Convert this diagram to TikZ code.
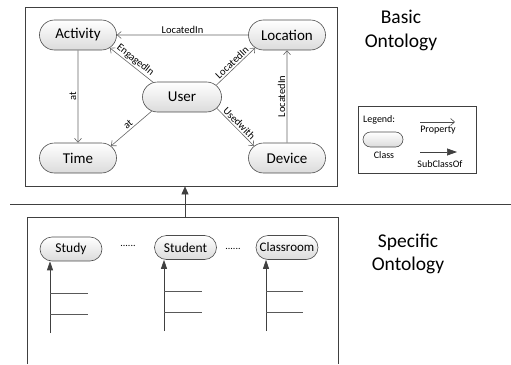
\documentclass[tikz,border=0pt]{standalone}
\usepackage{fontspec}
\setmainfont{Carlito}
\usetikzlibrary{arrows.meta,shapes.misc}
\begin{document}
\begin{tikzpicture}[x=1pt,y=-1pt,
  cls/.style={rounded rectangle, draw=black!70, line width=0.6pt, top color=white,
    bottom color=black!14, minimum width=77pt, minimum height=30pt, inner sep=0pt,
    font=\fontsize{15}{15}\selectfont},
  subcls/.style={cls, minimum width=62pt, minimum height=24pt,
    font=\fontsize{13.5}{13.5}\selectfont},
  prop/.style={draw=black!60, line width=0.6pt, -{Straight Barb[length=4pt,width=7pt]}},
  isa/.style={draw=black!75, line width=0.7pt, -{Triangle[length=9pt,width=6pt]}},
  tick/.style={draw=black!65, line width=0.6pt},
  plabel/.style={font=\fontsize{10.5}{10.5}\selectfont, inner sep=1.5pt},
  frame/.style={draw=black!75, line width=0.7pt},
  title/.style={font=\fontsize{19.5}{23.5}\selectfont, align=center},
  legtext/.style={font=\fontsize{10}{10}\selectfont, inner sep=0pt},
  dots/.style={font=\fontsize{10}{10}\selectfont, inner sep=0pt}
]
\useasboundingbox (0,0) rectangle (511,364);

% ---------- basic ontology ----------
\node[frame, minimum width=312pt, minimum height=179pt, inner sep=0pt] (basic) at (181,96.5) {};
\node[cls] (act)  at (78,35)   {Activity};
\node[cls] (loc)  at (287,35)  {Location};
\node[cls, minimum width=79pt] (user) at (182,97) {User};
\node[cls] (time) at (78,158)  {Time};
\node[cls] (dev)  at (287,158) {Device};

\draw[prop] (loc) -- node[plabel, above] {LocatedIn} (act);
\draw[prop] (act) -- node[plabel, rotate=90, above, pos=0.5] {at} (time);
\draw[prop] (dev) -- node[plabel, rotate=90, above] {LocatedIn} (loc);
\draw[prop] (user.153) -- node[plabel, sloped, above] {EngagedIn} (act.-22);
\draw[prop] (user.19)  -- node[plabel, sloped, above] {LocatedIn} (loc.202);
\draw[prop] (user.205) -- node[plabel, sloped, above] {at} (time.20);
\draw[prop] (user.-18) -- node[plabel, sloped, above] {Usedwith} (dev.160);

\node[title] (basictitle) at (401,30.5) {Basic\\Ontology};

% ---------- legend ----------
\node[frame, line width=0.6pt, minimum width=118pt, minimum height=67pt, inner sep=0pt] (legend) at (417,139.5) {};
\node[legtext, anchor=west] (legtitle) at (363,120) {Legend:};
\coordinate (pa) at (420,122);
\coordinate (pb) at (455,122);
\draw[prop, draw=black!70] (pa) -- (pb);
\node[legtext] (proptext) at (438,130.5) {Property};
\node[cls, minimum width=40pt, minimum height=15pt] (legcls) at (383,139.5) {};
\node[legtext] (clstext) at (384,155) {Class};
\coordinate (sa) at (420,152);
\coordinate (sb) at (457,152);
\draw[isa, -{Triangle[length=10pt,width=7pt]}] (sa) -- (sb);
\node[legtext] (subtext) at (440,164) {SubClassOf};

% ---------- separator ----------
\coordinate (sepL) at (10,204);
\coordinate (sepR) at (511,204);
\draw[frame] (sepL) -- (sepR);

% ---------- specific ontology ----------
\coordinate (specBL) at (27,364);
\coordinate (specTL) at (27,217);
\coordinate (specTR) at (338,217);
\coordinate (specBR) at (338,364);
\draw[frame] (specBL) -- (specTL) -- (specTR) -- (specBR);
\coordinate (specTop) at (185,217);
\draw[isa, -{Triangle[length=8pt,width=7pt]}] (specTop) -- (basic.south -| specTop);

\node[title] (spectitle) at (408,254) {Specific\\Ontology};

\node[subcls] (study)   at (71,249)    {Study};
\node[subcls] (student) at (185.5,247.5) {Student};
\node[subcls, font=\fontsize{13}{13}\selectfont] (room) at (287,247.5) {Classroom};
\node[dots] (dots1) at (128,246) {......};
\node[dots] (dots2) at (233,249) {......};

% sub-class trees
\coordinate (t1) at (50,333);
\draw[isa] (t1) -- (study.south -| t1);
\draw[tick] (50,293) -- (88,293);
\draw[tick] (50,314) -- (88,314);

\coordinate (t2) at (164,331);
\draw[isa] (t2) -- (student.south -| t2);
\draw[tick] (164,291) -- (202,291);
\draw[tick] (164,312) -- (202,312);

\coordinate (t3) at (266,331);
\draw[isa] (t3) -- (room.south -| t3);
\draw[tick] (266,291) -- (303,291);
\draw[tick] (266,312) -- (303,312);
\end{tikzpicture}
\end{document}
